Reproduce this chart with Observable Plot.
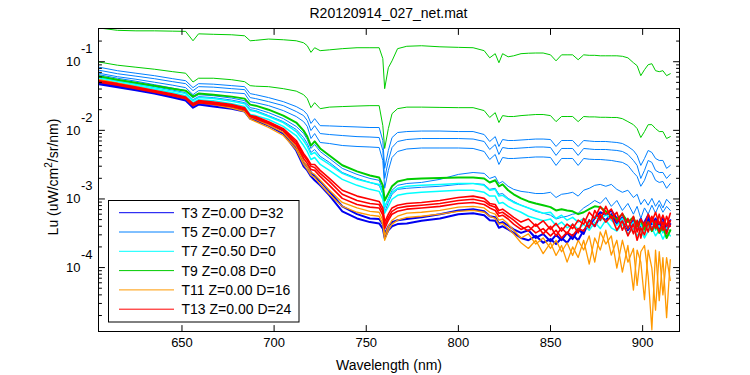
<!DOCTYPE html>
<html><head><meta charset="utf-8">
<script src="https://cdn.jsdelivr.net/npm/d3@7"></script>
<script src="https://cdn.jsdelivr.net/npm/@observablehq/plot@0.6"></script>
<style>
html,body{margin:0;padding:0;background:#fff;}
</style></head><body><div id="chart"></div>
<script>
const wavelength = [605,615,625,635,645,652,656,659,667,677,684,687,690,697,705,712,716,718,720,722,725,730,737,745,752,757,759,760,762,764,767,772,780,790,800,808,814,817,820,822,824,827,830,834,838,842,846,850,853,856,859,862,865,868,871,874,877,880,883,886,889,892,895,897,899,901,903,905,907,909,911,913,915];

// T3 (dark blue)
const t3a = [0.0471,0.0426,0.0385,0.0343,0.030,0.0271,0.0214,0.0237,0.0222,0.0207,0.0188,0.0148,0.0139,0.0117,0.00898,0.00509,0.00299,0.00261,0.00213,0.00187,0.00158,0.00113,0.00066,0.00052,0.00046,0.00044,0.00037,0.00027,0.00035,0.0004,0.00043,0.00044,0.00048,0.00052,0.0006,0.00062,0.00058,0.00049,0.00048,0.00038,0.0004,0.00036,0.00032,0.00027,0.00025,0.00029,0.00023,0.00026,0.00022,0.00027,0.00023,0.0003,0.00025,0.00035,0.00041,0.00052,0.00064,0.00058,0.00068,0.00052,0.00046,0.00037,0.00049,0.00035,0.00041,0.00046,0.00058,0.00043,0.00052,0.00037,0.00046,0.0004,0.00049];
const t3b = [0.0487,0.044,0.0398,0.0354,0.0315,0.0285,0.0229,0.0249,0.0237,0.0218,0.020,0.0159,0.0148,0.0128,0.0099,0.00562,0.00341,0.00299,0.00243,0.00213,0.0018,0.00129,0.00078,0.0006,0.00052,0.00051,0.00043,0.00031,0.0004,0.00046,0.00049,0.00051,0.00054,0.0006,0.00068,0.00071,0.00066,0.00056,0.00054,0.00044,0.00046,0.00041,0.00036,0.00032,0.00035,0.00027,0.00031,0.00024,0.0003,0.00025,0.00032,0.00026,0.00036,0.00031,0.00049,0.0004,0.00056,0.00049,0.0006,0.00043,0.00054,0.00035,0.00044,0.0004,0.00052,0.00037,0.00051,0.00035,0.00046,0.00041,0.00054,0.00035,0.00043];

// T5 (blue)
const t5a = [0.0832,0.074,0.068,0.0626,0.0566,0.0529,0.0419,0.0479,0.0471,0.0448,0.0433,0.0343,0.0331,0.030,0.0262,0.0222,0.0194,0.017,0.0126,0.0148,0.0117,0.0116,0.0114,0.0112,0.011,0.011,0.00711,0.00279,0.00509,0.00786,0.00929,0.0096,0.00977,0.00977,0.0096,0.0096,0.00869,0.00688,0.0081,0.00582,0.00735,0.00711,0.00711,0.00723,0.00735,0.00747,0.00747,0.00735,0.00582,0.00711,0.00711,0.00711,0.00582,0.00711,0.00699,0.00688,0.00688,0.00688,0.00676,0.00665,0.00643,0.00582,0.00509,0.00431,0.00308,0.00389,0.00509,0.00476,0.00389,0.00364,0.00364,0.00279,0.00308];
const t5b = [0.0752,0.0669,0.0616,0.0566,0.0512,0.0479,0.0379,0.0433,0.0426,0.0405,0.0392,0.030,0.029,0.0262,0.0229,0.0188,0.0164,0.0139,0.00993,0.0117,0.00898,0.00869,0.0084,0.0081,0.00799,0.00786,0.00509,0.00199,0.00364,0.00562,0.00688,0.00735,0.0076,0.0076,0.0076,0.00747,0.00688,0.00526,0.00622,0.00445,0.00562,0.00544,0.00544,0.00553,0.00562,0.00572,0.00572,0.00562,0.00431,0.00544,0.00544,0.00544,0.00431,0.00544,0.00535,0.00526,0.00526,0.00526,0.00517,0.00509,0.00492,0.00445,0.00364,0.00308,0.00199,0.00261,0.00364,0.00341,0.00261,0.00243,0.00243,0.00199,0.00228];
const t5c = [0.068,0.0605,0.0556,0.0503,0.0455,0.0419,0.0331,0.0379,0.0373,0.0354,0.0343,0.0262,0.0253,0.0229,0.0194,0.0159,0.0134,0.0114,0.0076,0.00898,0.00665,0.00643,0.00601,0.00582,0.00572,0.00562,0.00364,0.00143,0.00261,0.00402,0.00492,0.00535,0.00553,0.00553,0.00553,0.00544,0.00492,0.00376,0.00445,0.00318,0.00402,0.00389,0.00389,0.00396,0.00402,0.00409,0.00409,0.00402,0.00308,0.00389,0.00389,0.00389,0.00308,0.00389,0.0038,0.00376,0.00376,0.0037,0.00364,0.00352,0.00341,0.00308,0.00243,0.00213,0.00153,0.00187,0.00261,0.00243,0.00187,0.00174,0.0018,0.00143,0.00168];
const t5d = [0.0647,0.0575,0.052,0.0463,0.0412,0.0379,0.030,0.0331,0.032,0.0295,0.0271,0.0214,0.0207,0.0181,0.0148,0.0114,0.009,0.0074,0.00544,0.00622,0.00492,0.00389,0.00279,0.00228,0.00199,0.00187,0.00134,0.00074,0.00102,0.00134,0.00158,0.00168,0.00174,0.00193,0.00228,0.00243,0.00236,0.00199,0.00213,0.00168,0.0018,0.00153,0.00138,0.00129,0.00125,0.0012,0.0012,0.00125,0.00105,0.00117,0.0012,0.00125,0.0011,0.00134,0.00143,0.00158,0.00163,0.00153,0.00163,0.00138,0.00125,0.00134,0.00105,0.00117,0.00083,0.00099,0.00081,0.00102,0.00078,0.00095,0.00074,0.00099,0.00086];
const t5e = [0.0605,0.0538,0.0487,0.0433,0.0385,0.0354,0.028,0.031,0.030,0.0276,0.0253,0.020,0.0194,0.0164,0.0134,0.0103,0.00786,0.00643,0.00476,0.00526,0.00418,0.00341,0.00243,0.00199,0.00174,0.00158,0.00117,0.00064,0.00089,0.00117,0.00138,0.00143,0.00148,0.00153,0.00163,0.00168,0.00163,0.00138,0.00143,0.00117,0.0012,0.00102,0.00092,0.00081,0.00074,0.00066,0.00062,0.00058,0.00051,0.00054,0.00056,0.0006,0.00062,0.00074,0.00083,0.00095,0.00086,0.00105,0.00078,0.00095,0.00068,0.00086,0.0006,0.00078,0.00052,0.00074,0.0006,0.00081,0.00062,0.00083,0.00064,0.00078,0.00068];

// T7 (cyan)
const t7a = [0.0585,0.052,0.0471,0.0419,0.0373,0.0343,0.0271,0.030,0.029,0.0266,0.0245,0.0194,0.0188,0.0159,0.013,0.0096,0.00711,0.00582,0.00445,0.00476,0.00389,0.00318,0.00236,0.00193,0.00174,0.00163,0.00125,0.00078,0.00099,0.00125,0.00143,0.00153,0.00158,0.00163,0.00168,0.00168,0.00158,0.00134,0.00138,0.0011,0.00113,0.00099,0.00089,0.00081,0.00074,0.00068,0.00062,0.00064,0.00052,0.00058,0.00049,0.00054,0.00046,0.00052,0.00043,0.00056,0.00048,0.0006,0.00049,0.00041,0.00052,0.00037,0.00046,0.00035,0.00043,0.00033,0.0004,0.00048,0.00035,0.00041,0.00032,0.00038,0.00034];
const t7b = [0.0556,0.0495,0.0448,0.0398,0.0354,0.032,0.0253,0.028,0.0271,0.0245,0.0222,0.017,0.0164,0.0144,0.0114,0.0084,0.006,0.00492,0.00376,0.00402,0.00318,0.00261,0.00193,0.00158,0.00138,0.00129,0.00099,0.00062,0.00078,0.00099,0.00113,0.0012,0.00125,0.00129,0.00134,0.00134,0.00125,0.0011,0.0011,0.00086,0.00089,0.00078,0.00071,0.00064,0.00056,0.00052,0.00048,0.00051,0.00041,0.00046,0.00038,0.00043,0.00036,0.00043,0.00035,0.00046,0.00037,0.00049,0.00038,0.00034,0.00043,0.00031,0.00037,0.00029,0.00035,0.00027,0.00034,0.00038,0.00029,0.00035,0.00026,0.00033,0.00029];

// T9 (green)
const t9a = [0.31,0.287,0.282,0.282,0.279,0.277,0.202,0.255,0.251,0.247,0.239,0.202,0.205,0.214,0.209,0.202,0.189,0.171,0.137,0.160,0.145,0.149,0.155,0.160,0.160,0.160,0.111,0.0405,0.0818,0.103,0.155,0.168,0.171,0.165,0.162,0.160,0.145,0.114,0.131,0.0967,0.131,0.118,0.122,0.131,0.133,0.134,0.134,0.126,0.103,0.126,0.126,0.126,0.107,0.126,0.124,0.124,0.122,0.122,0.122,0.122,0.120,0.114,0.0967,0.0875,0.0626,0.0765,0.0905,0.0935,0.074,0.0716,0.074,0.0626,0.0669];
const t9b = [0.099,0.089,0.0832,0.0778,0.0716,0.068,0.0506,0.0575,0.0575,0.0547,0.0512,0.0448,0.044,0.0433,0.0405,0.0373,0.0331,0.029,0.0214,0.0253,0.0207,0.0218,0.0222,0.0226,0.0229,0.0229,0.0117,0.00544,0.0106,0.0175,0.0207,0.0218,0.0218,0.0216,0.0214,0.0214,0.0194,0.0154,0.0181,0.013,0.0164,0.0159,0.0159,0.0164,0.0167,0.017,0.017,0.0164,0.0134,0.0159,0.0159,0.0159,0.0134,0.0159,0.0157,0.0157,0.0155,0.0155,0.0154,0.0154,0.0148,0.0134,0.0121,0.0106,0.00786,0.0096,0.0121,0.0121,0.0106,0.0096,0.0096,0.0076,0.0081];
const t9c = [0.0615,0.0547,0.0495,0.0448,0.0405,0.0379,0.031,0.0343,0.0331,0.031,0.029,0.0237,0.0229,0.020,0.0164,0.013,0.0099,0.0081,0.006,0.0069,0.00544,0.0043,0.0031,0.00252,0.0022,0.00206,0.00158,0.00095,0.0012,0.00153,0.0018,0.00193,0.00199,0.00202,0.00206,0.00206,0.00199,0.00174,0.00187,0.00153,0.00163,0.00134,0.00117,0.00102,0.00092,0.00086,0.00081,0.00076,0.00068,0.00071,0.00068,0.00066,0.0006,0.00064,0.00071,0.00078,0.00076,0.00066,0.00056,0.00051,0.0006,0.00046,0.00054,0.0004,0.00049,0.00036,0.00046,0.00034,0.00043,0.00032,0.0004,0.00027,0.00035];

// T11 (orange)
const t11a = [0.0547,0.0487,0.0433,0.0379,0.0331,0.030,0.0237,0.0262,0.0245,0.0222,0.0197,0.0154,0.0144,0.0119,0.00929,0.00582,0.00352,0.00299,0.00243,0.00228,0.00187,0.00134,0.00089,0.00074,0.00066,0.00064,0.00049,0.00029,0.0004,0.00049,0.00056,0.00062,0.00064,0.00068,0.00076,0.00078,0.00074,0.00064,0.0006,0.00049,0.00051,0.00043,0.00035,0.00027,0.00031,0.00022,0.00027,0.00019,0.00025,0.00017,0.00023,0.00015,0.00025,0.00018,0.00029,0.00012,0.00033,0.00022,0.00029,9.8e-5,0.00025,0.00012,0.00019,5.5e-5,0.00017,0.00021,7.5e-5,1.24e-5,0.00018,3.3e-5,0.00014,1.86e-5,0.00013];
const t11b = [0.0538,0.0479,0.0422,0.0369,0.0322,0.029,0.0229,0.0253,0.0237,0.0211,0.0188,0.0146,0.0134,0.011,0.0084,0.00526,0.00318,0.00269,0.0022,0.00206,0.00163,0.00117,0.00078,0.00064,0.00058,0.00056,0.00043,0.00025,0.00035,0.00043,0.00049,0.00054,0.00056,0.0006,0.00066,0.00068,0.00064,0.00056,0.00052,0.00043,0.00044,0.00037,0.00031,0.00023,0.00019,0.00025,0.00016,0.00023,0.00015,0.00021,0.00012,0.0002,0.00014,0.00025,0.000112,0.00027,0.00018,0.00035,0.000152,0.00025,8.6e-5,0.00021,4.7e-5,0.00018,0.00012,3.4e-5,0.00018,9.8e-5,2.4e-5,0.00017,4e-5,0.00014,6.5e-5];

// T13 (red)
const t13a = [0.0529,0.0479,0.0426,0.0379,0.0337,0.0305,0.0245,0.0271,0.0258,0.0237,0.0214,0.0164,0.0159,0.0134,0.0106,0.00711,0.0046,0.00389,0.00318,0.00318,0.00261,0.00199,0.00134,0.0011,0.00099,0.00092,0.00074,0.00046,0.0006,0.00074,0.00081,0.00086,0.00089,0.00095,0.00105,0.0011,0.00102,0.00086,0.00083,0.00068,0.00071,0.00062,0.00054,0.00046,0.00051,0.0004,0.00048,0.00036,0.00044,0.00034,0.00043,0.00037,0.00049,0.00043,0.00064,0.00052,0.00078,0.0006,0.00071,0.00046,0.00062,0.00037,0.00056,0.00033,0.00051,0.0004,0.0006,0.00046,0.00064,0.00043,0.00058,0.0004,0.00062];
const t13b = [0.0503,0.0455,0.0405,0.036,0.032,0.029,0.0229,0.0253,0.0241,0.0222,0.020,0.0159,0.0148,0.0126,0.0099,0.00622,0.00389,0.0033,0.00269,0.00261,0.00213,0.00158,0.00102,0.00083,0.00076,0.00074,0.00058,0.00037,0.00049,0.0006,0.00066,0.00071,0.00074,0.00078,0.00086,0.00089,0.00083,0.00074,0.00068,0.00056,0.00058,0.00051,0.00043,0.00036,0.0004,0.00032,0.00037,0.00029,0.00035,0.00027,0.00033,0.00029,0.00037,0.00034,0.00049,0.0004,0.0006,0.00046,0.00056,0.00035,0.00048,0.00029,0.00043,0.00025,0.00038,0.0003,0.00046,0.00035,0.00049,0.00033,0.00046,0.00031,0.00048];
const t13c = [0.0515,0.0466,0.0416,0.0369,0.0329,0.0298,0.0237,0.0262,0.0249,0.0229,0.0207,0.0164,0.0154,0.013,0.0103,0.00665,0.0043,0.00364,0.00299,0.00288,0.00236,0.0018,0.00117,0.00095,0.00086,0.00083,0.00066,0.00041,0.00054,0.00066,0.00074,0.00078,0.00081,0.00086,0.00095,0.00099,0.00092,0.00081,0.00076,0.00062,0.00064,0.00056,0.00049,0.0004,0.00034,0.00043,0.00031,0.0004,0.00029,0.00038,0.00031,0.00043,0.00032,0.00052,0.00038,0.00068,0.00049,0.00078,0.00052,0.00064,0.00035,0.00052,0.00031,0.00049,0.00027,0.00046,0.00033,0.00056,0.00037,0.0006,0.00035,0.00056,0.0004];

const legendLabels = ["T3 Z=0.00 D=32","T5 Z=0.00 D=7","T7 Z=0.50 D=0","T9 Z=0.08 D=0","T11 Z=0.00 D=16","T13 Z=0.00 D=24"];
const groupColors = ["#0000f0","#0080ff","#00ffff","#00cc00","#ff9900","#ff0000"];
const xTicks = [650,700,750,800,850,900];
const yMajor = [1e-4,1e-3,1e-2,1e-1];
const yExponents = ["-4","-3","-2","-1"];
const yMinor = [2e-5,3e-5,4e-5,5e-5,6e-5,7e-5,8e-5,9e-5,2e-4,3e-4,4e-4,5e-4,6e-4,7e-4,8e-4,9e-4,2e-3,3e-3,4e-3,5e-3,6e-3,7e-3,8e-3,9e-3,2e-2,3e-2,4e-2,5e-2,6e-2,7e-2,8e-2,9e-2,2e-1];

const series = [
  {g:0, v:t3a, w:2},{g:0, v:t3b, w:2},
  {g:1, v:t5a, w:1},{g:1, v:t5b, w:1},{g:1, v:t5c, w:1},{g:1, v:t5d, w:1},{g:1, v:t5e, w:1},
  {g:2, v:t7a, w:1.5},{g:2, v:t7b, w:1.5},
  {g:3, v:t9a, w:1},{g:3, v:t9b, w:1},{g:3, v:t9c, w:2},
  {g:4, v:t11a, w:1.3},{g:4, v:t11b, w:1.3},
  {g:5, v:t13a, w:1.6},{g:5, v:t13b, w:1.6},{g:5, v:t13c, w:1.6}
];

const lineMarks = series.map(s => Plot.line(
  s.v.map((v,i) => ({wl: wavelength[i], lu: v})),
  {x:"wl", y:"lu", stroke: groupColors[s.g], strokeWidth: s.w, clip: true}
));

const tickShape = {draw(ctx, l) { ctx.moveTo(0,0); ctx.lineTo(0,-l); }};
const tk = (data, opts) => Plot.vector(data, {anchor:"start", shape: tickShape, stroke:"black", strokeWidth:1, ...opts});

const svg = Plot.plot({
  width: 750, height: 375,
  marginLeft: 98, marginRight: 71, marginTop: 28, marginBottom: 44,
  x: {domain: [604.7, 920], axis: null},
  y: {type: "log", domain: [1.17e-5, 0.305], axis: null},
  style: {background: "white", color: "black", fontFamily: "'Liberation Sans', Arial, Helvetica, sans-serif"},
  marks: [
    ...lineMarks,
    Plot.frame({stroke: "black", strokeWidth: 1}),
    tk(xTicks, {x: d => d, frameAnchor: "bottom", length: 6, rotate: 0}),
    tk(xTicks, {x: d => d, frameAnchor: "top", length: 6, rotate: 180}),
    tk(yMajor, {y: d => d, frameAnchor: "left", length: 6, rotate: 90}),
    tk(yMajor, {y: d => d, frameAnchor: "right", length: 6, rotate: -90}),
    tk(yMinor, {y: d => d, frameAnchor: "left", length: 3, rotate: 90}),
    tk(yMinor, {y: d => d, frameAnchor: "right", length: 3, rotate: -90}),
    Plot.text(xTicks, {x: d => d, frameAnchor: "bottom", dy: 15, text: d => `${d}`, fontSize: 13, fill: "black"}),
    Plot.text(yMajor, {y: d => d, frameAnchor: "left", dx: -18, textAnchor: "end", text: () => "10", fontSize: 13, fill: "black"}),
    Plot.text(yMajor, {y: d => d, frameAnchor: "left", dx: -17.5, dy: -13, textAnchor: "start", text: (d, i) => yExponents[i], fontSize: 13, fill: "black"})
  ]
});

document.getElementById("chart").appendChild(svg);
const s = d3.select(svg);
const font = "'Liberation Sans', Arial, Helvetica, sans-serif";
s.append("text").attr("x", 388.5).attr("y", 17.5).attr("text-anchor", "middle")
  .attr("font-size", 14).attr("font-family", font).attr("fill", "black").text("R20120914_027_net.mat");
s.append("text").attr("x", 389).attr("y", 369.5).attr("text-anchor", "middle")
  .attr("font-size", 14).attr("font-family", font).attr("fill", "black").text("Wavelength (nm)");
const yl = s.append("text").attr("transform", "translate(57.5,177) rotate(-90)").attr("text-anchor", "middle")
  .attr("font-size", 14).attr("font-family", font).attr("fill", "black");
yl.append("tspan").text("Lu (uW/cm");
yl.append("tspan").attr("dy", -6).attr("font-size", 10).text("2");
yl.append("tspan").attr("dy", 6).text("/sr/nm)");

const lg = s.append("g").attr("font-family", font).attr("font-size", 14).attr("text-anchor", "start");
lg.append("rect").attr("x", 108.5).attr("y", 200.5).attr("width", 190.5).attr("height", 121.5)
  .attr("fill", "white").attr("stroke", "black").attr("stroke-width", 1);
legendLabels.forEach((lab, i) => {
  const cy = 212.7 + 19.3 * i;
  lg.append("line").attr("x1", 119).attr("x2", 174).attr("y1", cy).attr("y2", cy)
    .attr("stroke", groupColors[i]).attr("stroke-width", 1);
  lg.append("text").attr("x", 181.5).attr("y", cy + 5).attr("text-anchor", "start").attr("fill", "black").text(lab);
});
</script>
</body></html>
